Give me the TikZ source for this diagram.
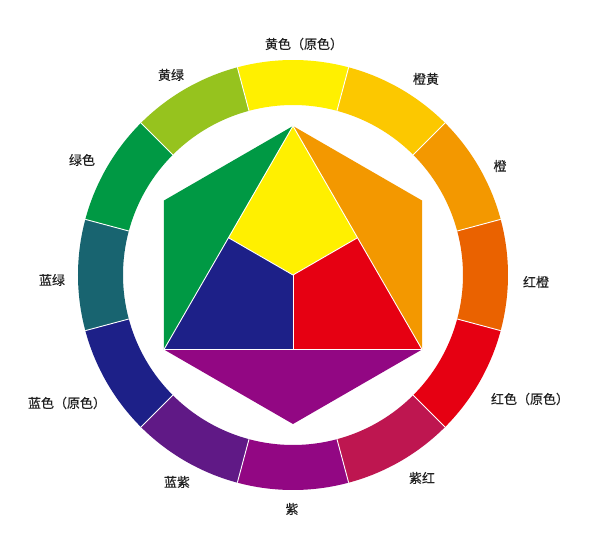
\documentclass[tikz,border=0pt]{standalone}
\usepackage{fontspec}
\usepackage{tikz}
\usetikzlibrary{calc}
\newfontfamily\cjk[FakeBold=0.4]{Noto Sans CJK SC}

\definecolor{cyellow}{HTML}{FFF000}
\definecolor{corangeyellow}{HTML}{FCC800}
\definecolor{corange}{HTML}{F39800}
\definecolor{credorange}{HTML}{EA6200}
\definecolor{cred}{HTML}{E60012}
\definecolor{credviolet}{HTML}{BE1650}
\definecolor{cviolet}{HTML}{920783}
\definecolor{cblueviolet}{HTML}{601986}
\definecolor{cblue}{HTML}{1D2088}
\definecolor{cbluegreen}{HTML}{186470}
\definecolor{cgreen}{HTML}{009944}
\definecolor{cyellowgreen}{HTML}{96C31E}
\definecolor{labeltext}{HTML}{222222}

\tikzset{
  seam/.style={draw=white, line width=0.9pt, line join=round},
  wheellabel/.style={text=labeltext, font=\cjk\fontsize{13}{15}\selectfont, inner sep=0pt}
}

\begin{document}
\begin{tikzpicture}[x=1pt,y=1pt]

\useasboundingbox[fill=white] (-293,-274) rectangle (307,275);

% outer ring
\def\Rout{215}
\def\Rin{170}
\foreach \a\c in {90/cyellow,60/corangeyellow,30/corange,0/credorange,-30/cred,-60/credviolet,
  -90/cviolet,-120/cblueviolet,-150/cblue,180/cbluegreen,150/cgreen,120/cyellowgreen}
\fill[\c] (\a-15:\Rout) arc (\a-15:\a+15:\Rout) -- (\a+15:\Rin) arc (\a+15:\a-15:\Rin) -- cycle;
\foreach \a in {15,45,...,345}
\draw[seam] (\a:\Rin) -- (\a:\Rout);

% inner hexagon
\coordinate (top) at (90:149);
\coordinate (ul) at (150:149);
\coordinate (ll) at (210:149);
\coordinate (bot) at (270:149);
\coordinate (lr) at (330:149);
\coordinate (ur) at (30:149);
\coordinate (mid) at (0,0);
\coordinate (ml) at ($(top)!0.5!(ll)$);
\coordinate (mr) at ($(top)!0.5!(lr)$);
\coordinate (mb) at ($(ll)!0.5!(lr)$);

\fill[cgreen] (top) -- (ul) -- (ll) -- cycle;
\fill[corange] (top) -- (ur) -- (lr) -- cycle;
\fill[cviolet] (ll) -- (bot) -- (lr) -- cycle;
\fill[cyellow] (top) -- (mr) -- (mid) -- (ml) -- cycle;
\fill[cblue] (ml) -- (mid) -- (mb) -- (ll) -- cycle;
\fill[cred] (mid) -- (mr) -- (lr) -- (mb) -- cycle;

\draw[seam] (top) -- (ll) -- (lr) -- cycle;
\draw[seam] (ml) -- (mid) -- (mr);
\draw[seam] (mid) -- (mb);

% labels
\foreach \p\name\txt in {{(11,231)}/lyellow/黄色（原色）,{(133,196)}/lorangeyellow/橙黄,
  {(207,109)}/lorange/橙,{(243,-7)}/lredorange/红橙,{(237,-124)}/lred/红色（原色）,
  {(129,-203)}/lredviolet/紫红,{(-1,-234)}/lviolet/紫,{(-116,-207)}/lblueviolet/蓝紫,
  {(-226,-128)}/lblue/蓝色（原色）,{(-241,-5)}/lbluegreen/蓝绿,{(-211,115)}/lgreen/绿色,
  {(-122,200)}/lyellowgreen/黄绿}
\node[wheellabel] (\name) at \p {\txt};

\end{tikzpicture}
\end{document}
